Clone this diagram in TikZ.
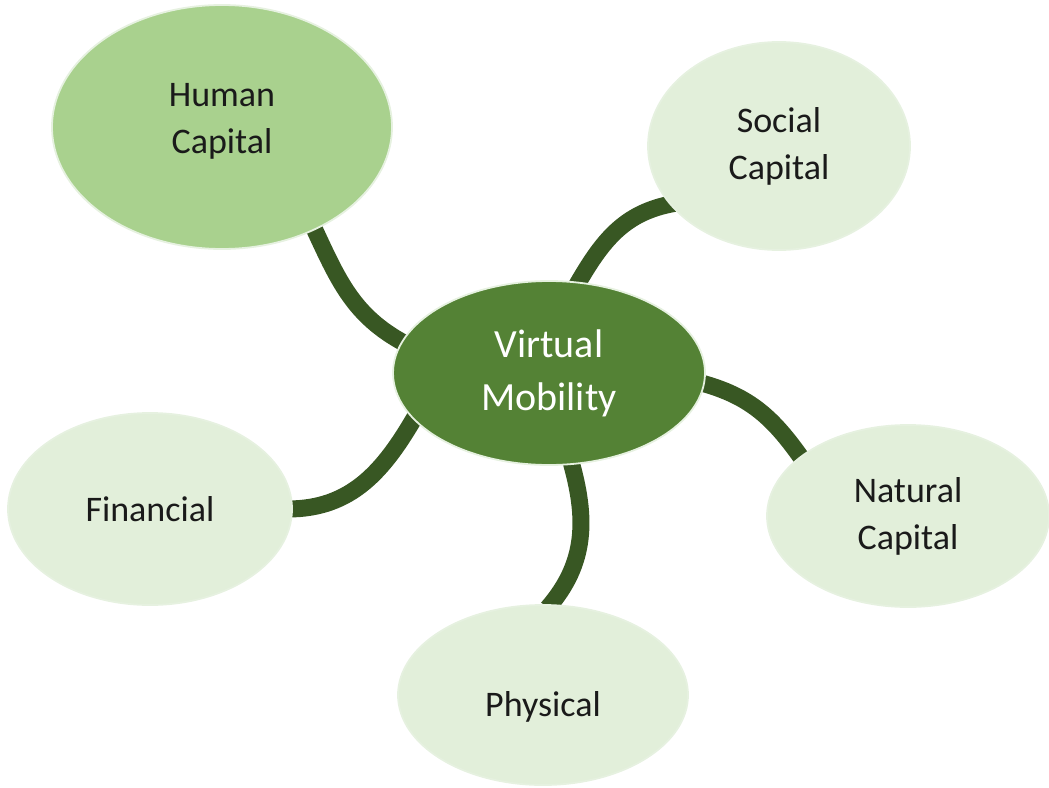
\documentclass[tikz,border=0pt]{standalone}
\usepackage{fontspec}
\setmainfont{Carlito}
\usetikzlibrary{shapes.geometric,backgrounds}
\definecolor{hcfill}{HTML}{A9D18E}
\definecolor{lightfill}{HTML}{E2EFDA}
\definecolor{vmfill}{HTML}{548235}
\definecolor{linkcol}{HTML}{385723}
\definecolor{edgecol}{HTML}{E6F1E0}
\definecolor{txt}{HTML}{1A1A1A}
\newcommand{\liftby}[2]{\raisebox{#1}[\height][\depth]{\begin{tabular}{@{}c@{}}#2\end{tabular}}}
\begin{document}
\begin{tikzpicture}[x=1pt,y=1pt,
  bubble/.style={ellipse, inner sep=0pt, draw=edgecol, line width=1.8pt, align=center,
    font=\fontsize{36}{47}\selectfont, text=txt},
  dark/.style={bubble, fill=hcfill},
  pale/.style={bubble, fill=lightfill},
  core/.style={bubble, fill=vmfill, text=white, font=\fontsize{40}{53}\selectfont},
  linkline/.style={draw=linkcol, line width=17pt, shorten <=-5pt, shorten >=-5pt}]
\useasboundingbox (0,0) rectangle (1049,-787);
\node[dark, minimum width=340pt, minimum height=244pt] (hc) at (222,-127) {\liftby{6pt}{Human\\Capital}};
\node[pale, minimum width=262pt, minimum height=208pt] (sc) at (779,-146) {Social\\Capital};
\node[core, minimum width=312pt, minimum height=184pt] (vm) at (549,-373) {Virtual\\Mobility};
\node[pale, minimum width=284pt, minimum height=192pt] (fc) at (150,-509) {\liftby{-3pt}{Financial}};
\node[pale, minimum width=282pt, minimum height=182pt] (nc) at (908,-516) {Natural\\Capital};
\node[pale, minimum width=290pt, minimum height=180pt] (pc) at (543,-695) {\liftby{-12pt}{Physical}};
\begin{scope}[on background layer]
\draw[linkline] (hc.-48) to[out=-65,in=152] (vm.168);
\draw[linkline] (sc.-152) to[out=190,in=60] (vm.72);
\draw[linkline] (vm.-4) to[out=-15,in=125] (nc.151);
\draw[linkline] (fc.0) to[out=0,in=240] (vm.-161);
\draw[linkline] (vm.-76) to[out=-74,in=49] (pc.85);
\end{scope}
\end{tikzpicture}
\end{document}
